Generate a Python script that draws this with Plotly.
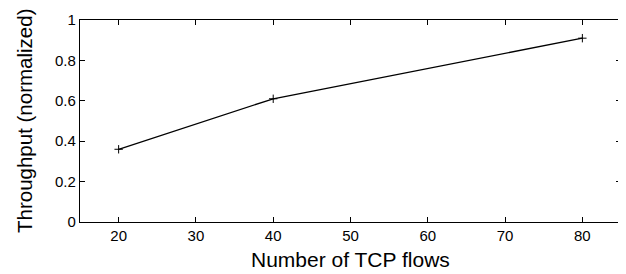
import plotly.graph_objects as go

flows = [20, 40, 80]
throughput = [0.36, 0.61, 0.91]
x_ticks = [20, 30, 40, 50, 60, 70, 80]
y_ticks = [0, 0.2, 0.4, 0.6, 0.8, 1]
y_tick_text = ["0", "0.2", "0.4", "0.6", "0.8", "1"]
x_title = "Number of TCP flows"
y_title = "Throughput (normalized)"

# page body has an 8px default margin; figure sized to fill the rest of the window
OFF = 8
W, H = 626 - OFF, 274 - OFF
L, R, T, B = 80 - OFF, 5, 20 - OFF, 52

fig = go.Figure()
fig.add_trace(go.Scatter(
    x=flows, y=throughput, mode="lines+markers",
    line=dict(color="black", width=1.3),
    marker=dict(symbol="cross-thin", size=6, line=dict(color="black", width=1)),
    showlegend=False,
))

font = "Liberation Sans, Arial, sans-serif"
fig.update_layout(
    width=W, height=H,
    margin=dict(l=L, r=R, t=T, b=B, autoexpand=False),
    plot_bgcolor="white", paper_bgcolor="white",
    font=dict(family=font, color="black"),
)
fig.update_xaxes(
    range=[15, 85], tickvals=x_ticks, ticks="inside", ticklen=5, tickwidth=1,
    tickcolor="black", mirror="ticks", showline=True, linecolor="black", linewidth=1.3,
    showgrid=False, zeroline=False, tickfont=dict(size=15), automargin=False,
)
fig.update_yaxes(
    range=[0, 1], tickvals=y_ticks, ticktext=y_tick_text, ticks="inside", ticklen=5,
    tickwidth=1, tickcolor="black", mirror="ticks", showline=True, linecolor="black",
    linewidth=1.3, showgrid=False, zeroline=False, tickfont=dict(size=15), automargin=False,
)
plot_h = H - T - B
plot_w = W - L - R
fig.add_annotation(
    text=x_title, xref="paper", yref="paper", x=0.5,
    y=-(259 - OFF - (H - B)) / plot_h, xanchor="center", yanchor="middle",
    showarrow=False, font=dict(size=21),
)
fig.add_annotation(
    text=y_title, xref="paper", yref="paper", x=-(L - (24 - OFF)) / plot_w, y=0.5,
    xanchor="center", yanchor="middle", textangle=-90,
    showarrow=False, font=dict(size=20.5),
)

fig.write_html("out.html")
